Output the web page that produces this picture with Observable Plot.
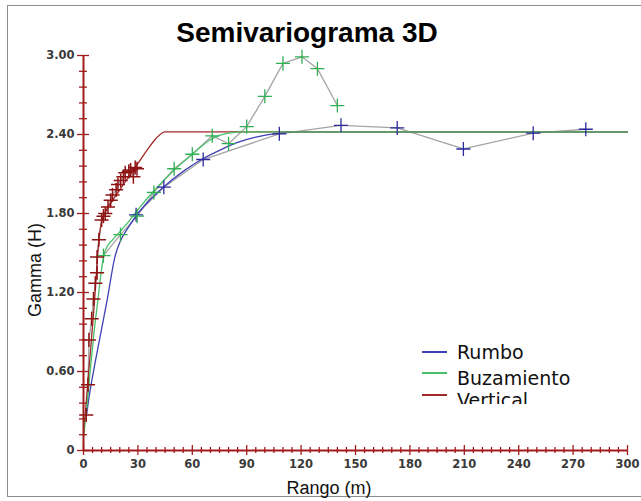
<!DOCTYPE html>
<html><head><meta charset="utf-8">
<script src="https://cdn.jsdelivr.net/npm/d3@7"></script>
<script src="https://cdn.jsdelivr.net/npm/@observablehq/plot@0.6"></script>
<style>
body{margin:0;background:#fff;}
#wrap{position:relative;width:641px;height:501px;overflow:hidden;background:#fff;}
#frame{position:absolute;left:7px;top:5px;width:650px;height:492px;border:1px solid #8c8c8c;box-sizing:border-box;}
#title{position:absolute;left:0;width:614px;top:19px;text-align:center;font:bold 28px/28px "Liberation Sans",Arial,sans-serif;color:#000;}
#xlab{position:absolute;left:0;width:658px;top:479px;text-align:center;font:18px/18px "Liberation Sans",Arial,sans-serif;color:#111;}
#ylab{position:absolute;left:35px;top:270px;transform:translate(-50%,-50%) rotate(-90deg);white-space:nowrap;font:18px/18px "Liberation Sans",Arial,sans-serif;color:#111;}
#legend{position:absolute;left:418px;top:338px;width:200px;height:66px;overflow:hidden;font:19px/19px "DejaVu Sans",sans-serif;color:#111;}
.row{position:absolute;left:0;height:20px;}
.sw{position:absolute;left:4px;width:25px;height:0;border-top:2px solid;}
.lt{position:absolute;left:39px;top:0;white-space:nowrap;}
#chart{position:absolute;left:0;top:0;}
</style>
</head><body>
<div id="wrap">
  <div id="frame"></div>
  <div id="chart"></div>
  <div id="title">Semivariograma 3D</div>
  <div id="ylab">Gamma (H)</div>
  <div id="xlab">Rango (m)</div>
  <div id="legend"></div>
</div>
<script>
// ---- data ----
const seriesNames = ["Rumbo", "Buzamiento", "Vertical"];
const seriesColors = ["#4040b4", "#48c068", "#a02828"];
const markerColors = ["#2a2a9c", "#2fae52", "#8e1414"];

// experimental semivariogram points (lag h, gamma)
const rumboExpH = [29, 44.3, 66, 108, 142, 173, 209.5, 248, 277];
const rumboExpG = [1.79, 2.00, 2.21, 2.405, 2.47, 2.45, 2.29, 2.41, 2.44];
const buzExpH = [11, 20.4, 29.6, 38.8, 50, 60, 71, 80, 90, 100, 110, 120.5, 129, 140];
const buzExpG = [1.48, 1.64, 1.78, 1.96, 2.14, 2.25, 2.39, 2.33, 2.46, 2.69, 2.94, 2.99, 2.90, 2.62];
const vertExpH = [1.5, 2.5, 3, 4.5, 5.5, 6.5, 7.5, 7.5, 8.5, 10, 11, 12, 13.5, 15, 16, 18, 19, 20.5, 22, 23, 25, 26, 27.5, 28.5, 29.5];
const vertExpG = [0.27, 0.50, 0.84, 1.00, 1.15, 1.27, 1.35, 1.47, 1.60, 1.75, 1.78, 1.80, 1.85, 1.90, 1.94, 1.98, 2.02, 2.05, 2.08, 2.11, 2.12, 2.13, 2.08, 2.15, 2.14];

// fitted model curves
const rumboModH = [1.5, 3, 5.5, 9.5, 13, 17.5, 20, 25, 30, 35, 44, 55, 65, 75, 85, 95, 108, 120, 300];
const rumboModG = [0.25, 0.40, 0.60, 0.89, 1.14, 1.48, 1.58, 1.70, 1.80, 1.88, 2.00, 2.12, 2.21, 2.28, 2.34, 2.38, 2.41, 2.42, 2.42];
const buzModH = [0, 2, 4, 6, 8, 10, 12, 16, 20, 25, 30, 40, 50, 60, 70, 80, 90, 300];
const buzModG = [0.10, 0.35, 0.65, 0.92, 1.15, 1.38, 1.52, 1.60, 1.66, 1.74, 1.83, 1.99, 2.13, 2.25, 2.36, 2.41, 2.42, 2.42];
const vertModH = [0, 1, 2, 3, 4, 5, 6, 7, 8, 9, 10, 12, 16, 20, 25, 30, 35, 40, 45, 300];
const vertModG = [0.15, 0.28, 0.45, 0.62, 0.78, 0.95, 1.12, 1.32, 1.52, 1.66, 1.74, 1.81, 1.90, 1.98, 2.08, 2.18, 2.28, 2.37, 2.42, 2.42];

// ticks
const xMajor = [0, 30, 60, 90, 120, 150, 180, 210, 240, 270, 300];
const xLabels = ["0", "30", "60", "90", "120", "150", "180", "210", "240", "270", "300"];
const xMinor = [5,10,15,20,25,35,40,45,50,55,65,70,75,80,85,95,100,105,110,115,125,130,135,140,145,155,160,165,170,175,185,190,195,200,205,215,220,225,230,235,245,250,255,260,265,275,280,285,290,295];
const yMajor = [0, 0.6, 1.2, 1.8, 2.4, 3.0];
const yLabels = ["0", "0.60", "1.20", "1.80", "2.40", "3.00"];
const yMinor = [0.12,0.24,0.36,0.48,0.72,0.84,0.96,1.08,1.32,1.44,1.56,1.68,1.92,2.04,2.16,2.28,2.52,2.64,2.76,2.88];

// ---- build tables ----
const pts = (H, G) => H.map((h, i) => ({h, g: G[i]}));
const exps = [pts(rumboExpH, rumboExpG), pts(buzExpH, buzExpG), pts(vertExpH, vertExpG)];
const mods = [pts(rumboModH, rumboModG), pts(buzModH, buzModG), pts(vertModH, vertModG)];

const axisColor = "#a01c1c";
const gray = "#a4a4a4";
const tickFont = {fontFamily: "'DejaVu Sans', sans-serif", fontWeight: "bold", fontSize: 11.5, fill: "#3a3a3a"};

const chart = Plot.plot({
  width: 641, height: 501,
  marginLeft: 83, marginRight: 14, marginTop: 55, marginBottom: 51,
  x: {domain: [0, 300], axis: null},
  y: {domain: [0, 3], axis: null},
  style: {background: "transparent", overflow: "visible"},
  marks: [
    // gray experimental connecting lines
    Plot.line(exps[0], {x: "h", y: "g", stroke: gray, strokeWidth: 1.3}),
    Plot.line(exps[1], {x: "h", y: "g", stroke: gray, strokeWidth: 1.3}),
    Plot.line(exps[2], {x: "h", y: "g", stroke: gray, strokeWidth: 1.3}),
    // model curves
    Plot.line(mods[0], {x: "h", y: "g", stroke: seriesColors[0], strokeWidth: 1.3, curve: "monotone-x"}),
    Plot.line(mods[2], {x: "h", y: "g", stroke: seriesColors[2], strokeWidth: 1.3, curve: "monotone-x"}),
    Plot.line(mods[1], {x: "h", y: "g", stroke: seriesColors[1], strokeWidth: 1.3, curve: "monotone-x"}),
    // markers
    Plot.dot(exps[0], {x: "h", y: "g", symbol: "plus", r: 4.6, stroke: markerColors[0], strokeWidth: 1.3}),
    Plot.dot(exps[1], {x: "h", y: "g", symbol: "plus", r: 4.6, stroke: markerColors[1], strokeWidth: 1.3}),
    Plot.dot(exps[2], {x: "h", y: "g", symbol: "plus", r: 4.6, stroke: markerColors[2], strokeWidth: 1.5}),
    // axes lines
    Plot.ruleX([0], {x: d => d, y1: 0, y2: 3, stroke: axisColor, strokeWidth: 2}),
    Plot.ruleY([0], {y: d => d, x1: 0, x2: 300, stroke: axisColor, strokeWidth: 2}),
    // x ticks
    Plot.ruleX(xMajor, {x: d => d, y1: 0, y2: 0, insetTop: -5, insetBottom: -5, stroke: axisColor, strokeWidth: 1.3}),
    Plot.ruleX(xMinor, {x: d => d, y1: 0, y2: 0, insetTop: -3, insetBottom: -3, stroke: axisColor, strokeWidth: 1.3}),
    // y ticks
    Plot.ruleY(yMajor, {y: d => d, x1: 0, x2: 0, insetLeft: -6, insetRight: -6, stroke: axisColor, strokeWidth: 1.3}),
    Plot.ruleY(yMinor, {y: d => d, x1: 0, x2: 0, insetLeft: -4, insetRight: -4, stroke: axisColor, strokeWidth: 1.3}),
    // tick labels
    Plot.text(xMajor, {x: d => d, y: 0, text: (d, i) => xLabels[i], dy: 14, ...tickFont}),
    Plot.text(yMajor, {x: 0, y: d => d, text: (d, i) => yLabels[i], dx: -9, textAnchor: "end", ...tickFont})
  ]
});
document.getElementById("chart").appendChild(chart);

// legend
const legend = document.getElementById("legend");
const rowTops = [5, 31, 53];
seriesNames.forEach((name, i) => {
  const row = document.createElement("div");
  row.className = "row";
  row.style.top = rowTops[i] + "px";
  row.innerHTML = `<div class="sw" style="border-color:${seriesColors[i]};top:${i === 0 ? 8 : 3}px"></div><div class="lt">${name}</div>`;
  legend.appendChild(row);
});
</script>
</body></html>
